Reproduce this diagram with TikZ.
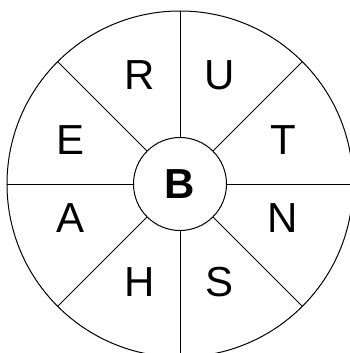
\documentclass[tikz,border=0pt]{standalone}
\usepackage{fontspec}
\setmainfont{Liberation Sans}
\begin{document}
\begin{tikzpicture}[x=1pt, y=1pt, line width=1pt,
    letter/.style={inner sep=0, font=\fontsize{42}{48}\selectfont}]
    \useasboundingbox (-180,-169) rectangle (169,184);
    \draw (0,0) circle (173);
    \node[draw, circle, minimum size=93pt, inner sep=0, font=\fontsize{42}{48}\selectfont\bfseries] (hub) at (0,0) {B};
    \foreach \a in {0,45,...,315}
      \draw (hub.\a) -- (\a:173) coordinate (rim\a);
    \node[letter] (R) at (-40,109) {R};
    \node[letter] (U) at (40,109) {U};
    \node[letter] (E) at (-109,44) {E};
    \node[letter] (T) at (103,44) {T};
    \node[letter] (A) at (-109,-34) {A};
    \node[letter] (N) at (103,-34) {N};
    \node[letter] (H) at (-40,-98) {H};
    \node[letter] (S) at (40,-98) {S};
\end{tikzpicture}
\end{document}
